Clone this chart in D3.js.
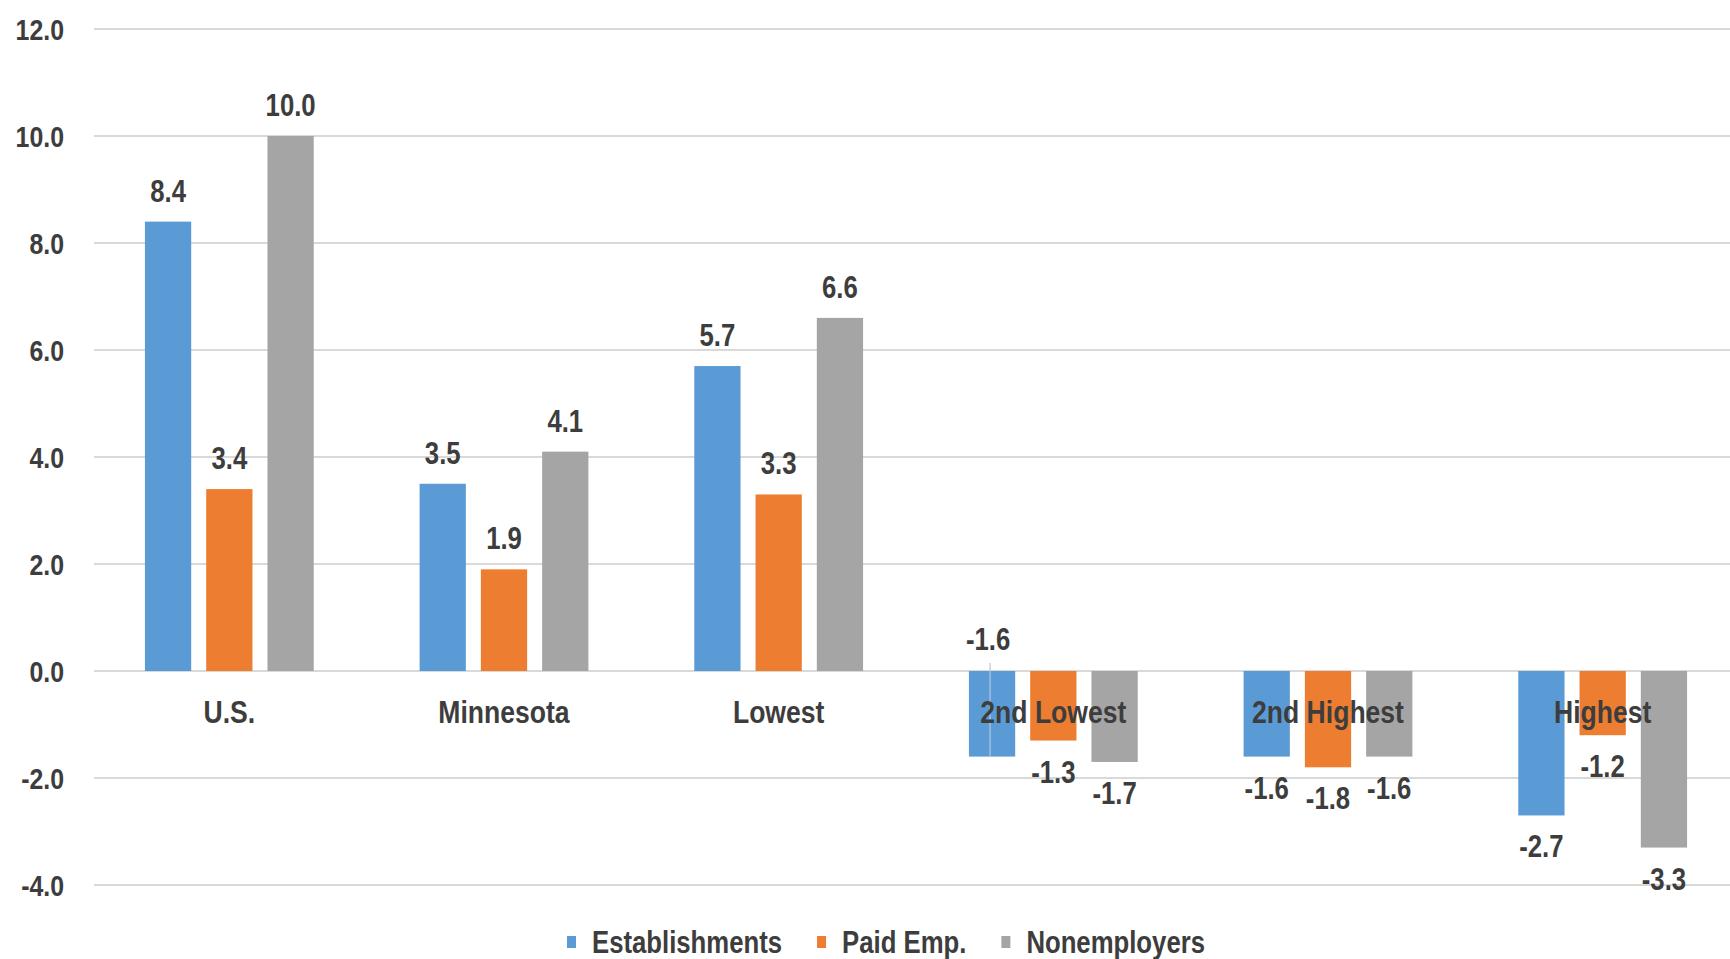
<!DOCTYPE html>
<html>
  <head>
    <meta charset="utf-8" />
    <script src="https://d3js.org/d3.v7.min.js"></script>
    <title>Percent change</title>
    <style>
      body {
        margin: 0;
        background: #ffffff;
      }
      text {
        font-family: 'Liberation Sans', Arial, sans-serif;
        font-weight: bold;
        fill: #3d3d3d;
      }
    </style>
  </head>

  <body>
    <div id="chart"></div>
  </body>

  <script>
    // data
    var categories = ['U.S.', 'Minnesota', 'Lowest', '2nd Lowest', '2nd Highest', 'Highest'];
    var seriesNames = ['Establishments', 'Paid Emp.', 'Nonemployers'];
    var establishments = [8.4, 3.5, 5.7, -1.6, -1.6, -2.7];
    var paidEmp = [3.4, 1.9, 3.3, -1.3, -1.8, -1.2];
    var nonemployers = [10.0, 4.1, 6.6, -1.7, -1.6, -3.3];
    var yTicks = [-4, -2, 0, 2, 4, 6, 8, 10, 12];

    var colors = ['#5b9bd5', '#ed7d31', '#a5a5a5'];
    var seriesValues = [establishments, paidEmp, nonemployers];

    var width = 1730,
      height = 959;
    var squeeze = 0.83; // the text in the picture is condensed

    // plain hyphen for negatives, like the original
    var fmt = (v) => v.toFixed(1);

    var svg = d3
      .select('#chart')
      .append('svg')
      .attr('width', width)
      .attr('height', height);

    // scales
    var x0 = d3.scaleBand().domain(categories).range([92, 1740]).padding(0);

    var x1 = d3
      .scaleBand()
      .domain(seriesNames)
      .range([-84.4, 84.4])
      .paddingInner(0.245)
      .paddingOuter(0);

    var y = d3.scaleLinear().domain([-4, 12]).range([885, 29]);

    function barCenter(d) {
      return x0(d.cat) + x0.bandwidth() / 2 + x1(d.series) + x1.bandwidth() / 2;
    }

    // gridlines
    svg
      .append('g')
      .selectAll('line')
      .data(yTicks)
      .join('line')
      .attr('x1', 94)
      .attr('x2', width)
      .attr('y1', (d) => y(d))
      .attr('y2', (d) => y(d))
      .attr('stroke', '#d9d9d9')
      .attr('stroke-width', 2);

    // y axis labels
    var yAxis = d3
      .axisLeft(y)
      .tickValues(yTicks)
      .tickFormat(fmt)
      .tickSize(0)
      .tickPadding(0);

    svg
      .append('g')
      .attr('transform', 'translate(64,0)')
      .call(yAxis)
      .call((g) => g.select('.domain').remove())
      .selectAll('text')
      .attr('fill', '#3d3d3d')
      .attr('x', 0)
      .attr('transform', 'scale(' + squeeze + ',1)')
      .style('font-size', '30px')
      .attr('dy', '0.35em');

    // flatten the bars
    var bars = [];
    categories.forEach(function (cat, i) {
      seriesNames.forEach(function (name, j) {
        bars.push({ cat: cat, series: name, idx: j, value: seriesValues[j][i] });
      });
    });

    svg
      .append('g')
      .selectAll('rect')
      .data(bars)
      .join('rect')
      .attr('x', (d) => x0(d.cat) + x0.bandwidth() / 2 + x1(d.series))
      .attr('width', x1.bandwidth())
      .attr('y', (d) => y(Math.max(0, d.value)))
      .attr('height', (d) => Math.abs(y(d.value) - y(0)))
      .attr('fill', (d) => colors[d.idx]);

    // the -1.6 label for 2nd Lowest establishments was dragged above the axis
    function isMoved(d) {
      return d.cat === '2nd Lowest' && d.series === 'Establishments';
    }

    var movedBar = bars.find(isMoved);
    var movedX = barCenter(movedBar);

    // leader line for the moved label
    svg
      .append('line')
      .attr('x1', movedX - 2)
      .attr('x2', movedX - 2)
      .attr('y1', y(0) - 8)
      .attr('y2', y(movedBar.value))
      .attr('stroke', '#b4c7dc')
      .attr('stroke-width', 1.2);

    // category labels sit on top of the bars
    svg
      .append('g')
      .selectAll('text')
      .data(categories)
      .join('text')
      .attr('transform', function (d) {
        return 'translate(' + (x0(d) + x0.bandwidth() / 2) + ',' + (y(0) + 52) + ') scale(' + squeeze + ',1)';
      })
      .attr('text-anchor', 'middle')
      .style('font-size', '32px')
      .text((d) => d);

    // value labels
    svg
      .append('g')
      .selectAll('text')
      .data(bars)
      .join('text')
      .attr('transform', function (d) {
        var cx = isMoved(d) ? barCenter(d) - 4 : barCenter(d);
        var cy;
        if (isMoved(d)) cy = y(0) - 21;
        else cy = d.value >= 0 ? y(d.value) - 20 : y(d.value) + 42;
        return 'translate(' + cx + ',' + cy + ') scale(' + squeeze + ',1)';
      })
      .attr('text-anchor', 'middle')
      .style('font-size', '31px')
      .text((d) => fmt(d.value));

    // legend
    var legend = svg.append('g').attr('transform', 'translate(567,942)');
    var lx = 0;
    seriesNames.forEach(function (name, i) {
      legend
        .append('rect')
        .attr('x', lx)
        .attr('y', -6)
        .attr('width', 9)
        .attr('height', 12)
        .attr('fill', colors[i]);
      var t = legend
        .append('text')
        .attr('transform', 'translate(' + (lx + 25) + ',11) scale(' + squeeze + ',1)')
        .style('font-size', '31px')
        .text(name);
      lx += 25 + t.node().getComputedTextLength() * squeeze + 35;
    });
  </script>
</html>
